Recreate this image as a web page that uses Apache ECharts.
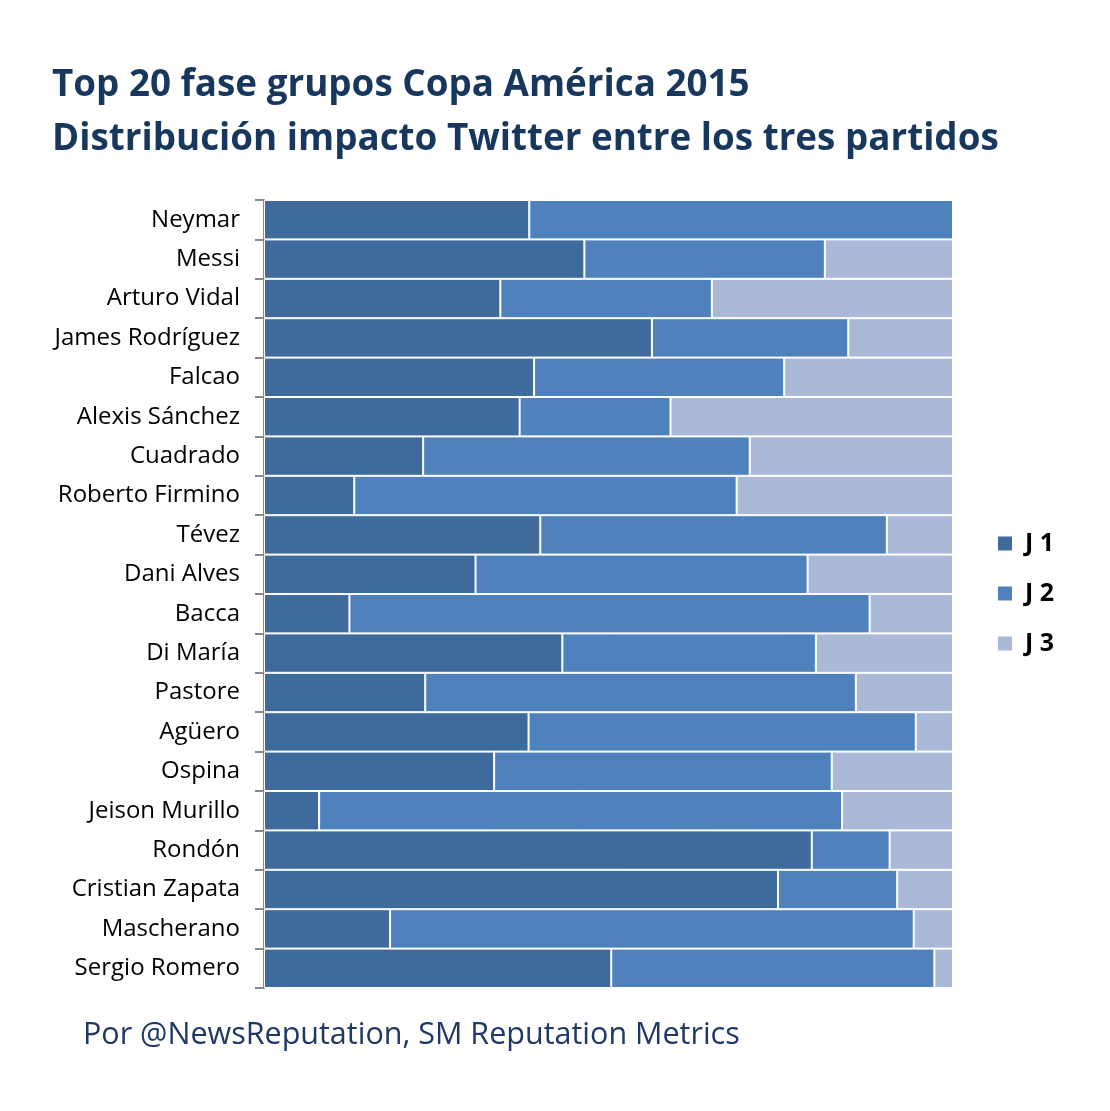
<!DOCTYPE html>
<html><head><meta charset="utf-8">
<script src="https://cdn.jsdelivr.net/npm/echarts@6/dist/echarts.min.js"></script>
<style>html,body{margin:0;padding:0;background:#fff}#c{width:1110px;height:1111px}</style>
</head><body><div id="c"></div>
<script>
const players = ["Neymar","Messi","Arturo Vidal","James Rodríguez","Falcao","Alexis Sánchez","Cuadrado","Roberto Firmino","Tévez","Dani Alves","Bacca","Di María","Pastore","Agüero","Ospina","Jeison Murillo","Rondón","Cristian Zapata","Mascherano","Sergio Romero"];
const j1 = [38.5,46.5,34.3,56.3,39.2,37.1,23.1,13.1,40.1,30.7,12.4,43.3,23.4,38.4,33.4,8.0,79.5,74.6,18.3,50.4];
const j2 = [61.5,34.9,30.7,28.5,36.3,21.9,47.4,55.5,50.3,48.2,75.5,36.8,62.5,56.2,49.0,75.9,11.3,17.3,76.0,46.9];
const j3 = [0.0,18.6,35.0,15.2,24.5,41.0,29.5,31.4,9.6,21.1,12.1,19.9,14.1,5.4,17.6,16.1,9.2,8.1,5.7,2.7];
const seriesNames = ["J 1","J 2","J 3"];
const colors = ["#3F6A9C","#4F81BD","#AAB9D7"];

const chart = echarts.init(document.getElementById('c'), null, {renderer:'canvas'});
const font = '"Open Sans", sans-serif';
chart.setOption({
  animation:false,
  title:[
    {text:"Top 20 fase grupos Copa América 2015\nDistribución impacto Twitter entre los tres partidos",
     left:47, top:54, textStyle:{fontFamily:font, fontWeight:'bold', fontSize:36.8, color:'#17375E', lineHeight:54}},
    {text:"Por @NewsReputation, SM Reputation Metrics", left:78, top:1015,
     textStyle:{fontFamily:font, fontWeight:'normal', fontSize:30.5, color:'#1F3864'}}
  ],
  legend:{orient:'vertical', left:991, top:526, itemWidth:16, itemHeight:16, itemGap:25,
    icon:'rect', textStyle:{fontFamily:font, fontWeight:'bold', fontSize:25, color:'#000', padding:[0,0,0,7]},
    data:seriesNames},
  grid:{left:264, right:157, top:200, bottom:123, containLabel:false},
  xAxis:{type:'value', min:0, max:100, show:false},
  yAxis:{type:'category', data:players, inverse:true,
    axisLine:{show:true, lineStyle:{color:'#888', width:2}},
    axisTick:{show:true, length:9, lineStyle:{color:'#888', width:2}},
    axisLabel:{fontFamily:font, fontSize:24, color:'#000', margin:24}},
  series:[j1,j2,j3].map((d,i)=>({
    name:seriesNames[i], type:'bar', stack:'all', data:d, barWidth:'100%',
    itemStyle:{color:colors[i], borderColor:'#fff', borderWidth:1}
  }))
});
</script></body></html>
